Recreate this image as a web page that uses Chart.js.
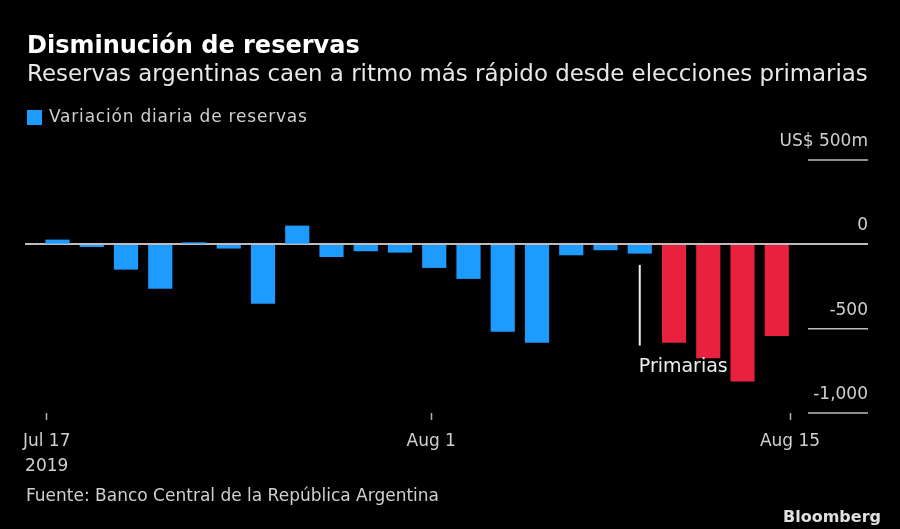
<!DOCTYPE html>
<html>
<head>
<meta charset="utf-8">
<script src="https://cdn.jsdelivr.net/npm/chart.js@4.4.1/dist/chart.umd.min.js"></script>
<style>
  body { margin: 0; background: #000; }
  #wrap { position: relative; width: 900px; height: 529px; background: #000; overflow: hidden; font-family: "DejaVu Sans", sans-serif; }
  #wrap canvas { position: absolute; left: 0; top: 0; }
  .txt { position: absolute; white-space: nowrap; line-height: 1; }
</style>
</head>
<body>
<div id="wrap">
  <canvas id="chart" width="900" height="529"></canvas>
  <div class="txt" style="left:27px;top:33px;font-size:24px;font-weight:bold;color:#fff">Disminución de reservas</div>
  <div class="txt" style="left:27px;top:62px;font-size:22.9px;color:#e8e8e8">Reservas argentinas caen a ritmo más rápido desde elecciones primarias</div>
  <div style="position:absolute;left:27px;top:110px;width:15px;height:15px;background:#1e9bff"></div>
  <div class="txt" style="left:49px;top:108px;font-size:17px;letter-spacing:0.8px;color:#cfcfcf">Variación diaria de reservas</div>
  <div class="txt" style="left:26px;top:487px;font-size:17px;color:#cfcfcf">Fuente: Banco Central de la República Argentina</div>
  <div class="txt" style="left:783px;top:509px;font-size:16px;font-weight:bold;color:#e0e0e0">Bloomberg</div>
</div>
<script>
// daily change in reserves, US$ millions, business days
const categories = ['2019-07-17', '2019-07-18', '2019-07-19', '2019-07-22', '2019-07-23', '2019-07-24',
  '2019-07-25', '2019-07-26', '2019-07-29', '2019-07-30', '2019-07-31', '2019-08-01', '2019-08-02',
  '2019-08-05', '2019-08-06', '2019-08-07', '2019-08-08', '2019-08-09', '2019-08-12', '2019-08-13',
  '2019-08-14', '2019-08-15'];
const values = [26, -14, -148, -262, 10, -23, -351, 109, -73, -39, -47, -138, -203, -516, -582, -63,
  -33, -53, -582, -674, -812, -542];
const primaryDate = '2019-08-11';
const markerDay = '2019-08-09';

const xTickDates = ['2019-07-17', '2019-08-01', '2019-08-15'];
const xTickLabels = [['Jul 17', '2019'], ['Aug 1'], ['Aug 15']];
const yTicks = [500, 0, -500, -1000];
const yTickLabels = ['US$ 500m', '0', '-500', '-1,000'];

const DAY = 86400000;
const dayOffset = d => (Date.parse(d) - Date.parse(categories[0])) / DAY;
const xTickValues = xTickDates.map(dayOffset);

const blue = '#1e9bff';
const red = '#e8213f';

const extras = {
  id: 'extras',
  afterDatasetsDraw(chart) {
    const { ctx, chartArea, scales: { xb, y } } = chart;
    ctx.save();
    // short gridlines at the right
    ctx.strokeStyle = '#bdbdbd';
    ctx.lineWidth = 1.5;
    yTicks.forEach(v => {
      if (v === 0) return;
      const py = y.getPixelForValue(v);
      ctx.beginPath();
      ctx.moveTo(chartArea.right - 60, py);
      ctx.lineTo(chartArea.right, py);
      ctx.stroke();
    });
    // Primarias marker
    const px = xb.getPixelForValue(categories.indexOf(markerDay));
    const y1 = y.getPixelForValue(-122);
    const y2 = y.getPixelForValue(-600);
    ctx.strokeStyle = '#f0f0f0';
    ctx.lineWidth = 2;
    ctx.beginPath();
    ctx.moveTo(px, y1);
    ctx.lineTo(px, y2);
    ctx.stroke();
    ctx.fillStyle = '#eeeeee';
    ctx.font = '19px "DejaVu Sans"';
    ctx.textAlign = 'left';
    ctx.textBaseline = 'alphabetic';
    ctx.fillText('Primarias', px - 1, y2 + 26);
    ctx.restore();
  }
};

new Chart(document.getElementById('chart'), {
  type: 'bar',
  data: {
    datasets: [{
      label: 'Variación diaria de reservas',
      data: values.map((v, i) => ({ x: i, y: v })),
      xAxisID: 'xb',
      backgroundColor: values.map((v, i) => categories[i] > primaryDate ? red : blue),
      barThickness: 23.5,
      borderWidth: 0
    }]
  },
  options: {
    responsive: false,
    animation: false,
    layout: { padding: { left: 25, right: 32, top: 160, bottom: 56 } },
    plugins: {
      legend: { display: false },
      tooltip: { enabled: false }
    },
    scales: {
      xb: {
        type: 'linear',
        display: false,
        offset: false,
        grid: { offset: false },
        min: -0.949,
        max: 23.664
      },
      x: {
        type: 'linear',
        position: 'bottom',
        offset: false,
        min: -0.847,
        max: 32.04,
        afterBuildTicks: s => { s.ticks = xTickValues.map(v => ({ value: v })); },
        afterFit: s => { s.height = 60; },
        grid: { offset: false, drawOnChartArea: false, drawTicks: true, tickLength: 7, tickColor: '#b0b0b0', tickWidth: 1.5 },
        border: { display: false },
        ticks: {
          maxRotation: 0,
          autoSkip: false,
          padding: 9,
          color: '#cfcfcf',
          font: { family: 'DejaVu Sans', size: 17, lineHeight: 25 / 17 },
          callback: v => {
            const i = xTickValues.indexOf(v);
            return i >= 0 ? xTickLabels[i] : '';
          }
        }
      },
      y: {
        position: 'right',
        min: -1000,
        max: 500,
        z: 1,
        afterBuildTicks: s => { s.ticks = yTicks.map(v => ({ value: v })); },
        afterFit: s => { s.width = 0; },
        grid: {
          drawTicks: false,
          color: c => c.tick && c.tick.value === 0 ? '#bdbdbd' : 'rgba(0,0,0,0)',
          lineWidth: 2
        },
        border: { display: false },
        ticks: {
          mirror: true,
          padding: 0,
          labelOffset: -18.5,
          color: '#cfcfcf',
          font: { family: 'DejaVu Sans', size: 17 },
          callback: v => {
            const i = yTicks.indexOf(v);
            return i >= 0 ? yTickLabels[i] : '';
          }
        }
      }
    }
  },
  plugins: [extras]
});
</script>
</body>
</html>
